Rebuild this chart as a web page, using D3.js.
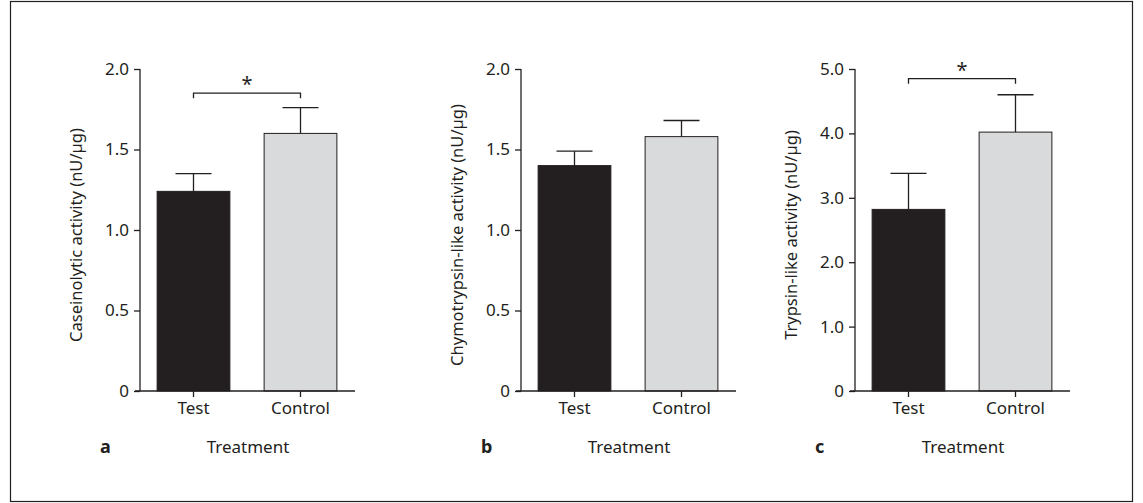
<!DOCTYPE html>
<html><head><meta charset="utf-8">
<script src="https://cdn.jsdelivr.net/npm/d3@7"></script>
<style>body{margin:0;background:#fff}svg text{font-family:"Noto Sans",sans-serif;fill:#231f20}</style>
</head><body><div id="chart"></div>
<script>
const categories = ["Test", "Control"];
const panelLetters = ["a", "b", "c"];
const yTitles = ["Caseinolytic activity (nU/µg)", "Chymotrypsin-like activity (nU/µg)", "Trypsin-like activity (nU/µg)"];
const means = [[1.24, 1.60], [1.40, 1.58], [2.82, 4.02]];
const errUpper = [[1.35, 1.76], [1.49, 1.68], [3.38, 4.60]];
const yMax = [2.0, 2.0, 5.0];
const yTicks = [[0, 0.5, 1.0, 1.5, 2.0], [0, 0.5, 1.0, 1.5, 2.0], [0, 1.0, 2.0, 3.0, 4.0, 5.0]];
const sigBracket = [1.85, null, 4.85];
const fills = ["#231f20", "#d9dadc"];

const svg = d3.select("#chart").append("svg").attr("width", 1143).attr("height", 503);
svg.append("rect").attr("x", 10.5).attr("y", 1.5).attr("width", 1122).attr("height", 500)
  .attr("fill", "none").attr("stroke", "#231f20").attr("stroke-width", 1.2);

const axisX = [140, 521, 855];
const plotTop = 69, plotBottom = 391;

panelLetters.forEach((letter, i) => {
  const x0 = axisX[i];
  const g = svg.append("g");
  const y = d3.scaleLinear().domain([0, yMax[i]]).range([plotBottom, plotTop]);
  const x = d3.scaleBand().domain(categories).range([x0, x0 + 214]).paddingInner(0.32).paddingOuter(0.16);
  const fmt = d => d === 0 ? "0" : d3.format(".1f")(d);

  const ya = g.append("g").attr("transform", `translate(${x0},0)`)
    .call(d3.axisLeft(y).tickValues(yTicks[i]).tickFormat(fmt).tickSize(6).tickPadding(5));
  ya.selectAll("path,line").attr("stroke", "#231f20").attr("stroke-width", 1.3);
  ya.select(".domain").attr("d", `M0,${plotTop}V${plotBottom}`);
  ya.selectAll("text").style("font-size", "17px");

  g.append("g").selectAll("rect").data(categories).join("rect")
    .attr("x", d => x(d)).attr("width", x.bandwidth())
    .attr("y", (d, j) => y(means[i][j])).attr("height", (d, j) => plotBottom - y(means[i][j]))
    .attr("fill", (d, j) => fills[j]).attr("stroke", "#231f20").attr("stroke-width", 1);

  categories.forEach((c, j) => {
    const cx = x(c) + x.bandwidth() / 2;
    g.append("line").attr("x1", cx).attr("x2", cx).attr("y1", y(means[i][j])).attr("y2", y(errUpper[i][j]))
      .attr("stroke", "#231f20").attr("stroke-width", 1.3);
    g.append("line").attr("x1", cx - 18).attr("x2", cx + 18).attr("y1", y(errUpper[i][j])).attr("y2", y(errUpper[i][j]))
      .attr("stroke", "#231f20").attr("stroke-width", 1.3);
  });

  const xa = g.append("g").attr("transform", `translate(0,${plotBottom})`)
    .call(d3.axisBottom(x).tickSize(6).tickPadding(5));
  xa.selectAll("path,line").attr("stroke", "#231f20").attr("stroke-width", 1.3);
  xa.select(".domain").attr("d", `M${x0 - 5},0H${x0 + 215}`);
  xa.selectAll("text").style("font-size", "17px");

  g.append("text").attr("transform", `translate(${x0 - 58},${(plotTop + plotBottom) / 2 + 5}) rotate(-90)`)
    .attr("text-anchor", "middle").style("font-size", "16.5px").text(yTitles[i]);
  g.append("text").attr("x", x0 + 108).attr("y", 453).attr("text-anchor", "middle").style("font-size", "17px").text("Treatment");
  g.append("text").attr("x", x0 - 40).attr("y", 453).style("font-size", "18px").style("font-weight", "bold").text(letter);

  if (sigBracket[i] != null) {
    const bx1 = x(categories[0]) + x.bandwidth() / 2, bx2 = x(categories[1]) + x.bandwidth() / 2, by = y(sigBracket[i]);
    g.append("path").attr("d", `M${bx1},${by + 5}V${by}H${bx2}V${by + 5}`)
      .attr("fill", "none").attr("stroke", "#231f20").attr("stroke-width", 1.3);
    g.append("text").attr("x", (bx1 + bx2) / 2).attr("y", by - 2).attr("text-anchor", "middle").style("font-size", "20px").text("*");
  }
});
</script></body></html>
